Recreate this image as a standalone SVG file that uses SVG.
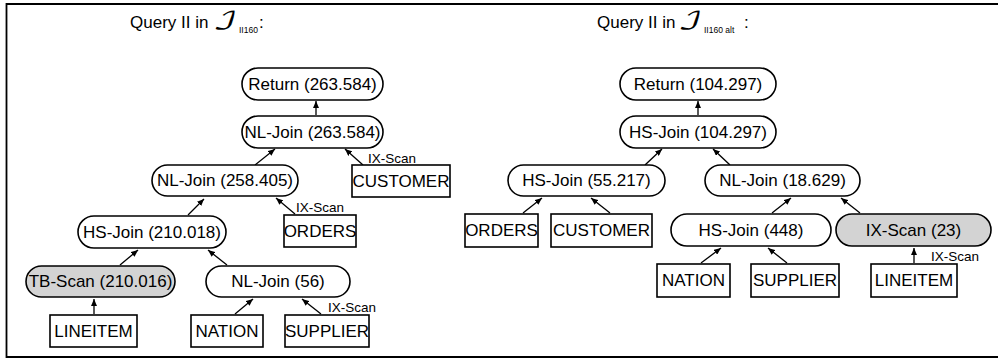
<svg xmlns="http://www.w3.org/2000/svg" width="998" height="358" viewBox="0 0 998 358">
  <style>
    .node { fill: #ffffff; stroke: #000000; stroke-width: 1.6; }
    .hot { fill: #d3d3d3; }
    .lbl { font-family: "Liberation Sans", Arial, sans-serif; font-size: 17px; fill: #000000; text-anchor: middle; dominant-baseline: central; }
    .scan { font-family: "Liberation Sans", Arial, sans-serif; font-size: 13.5px; fill: #000000; }
    .title { font-family: "Liberation Sans", Arial, sans-serif; font-size: 17px; fill: #000000; }
    .sub { font-family: "Liberation Sans", Arial, sans-serif; font-size: 8.5px; fill: #000000; }
    .cal { font-family: "DejaVu Math TeX Gyre", "DejaVu Serif", serif; font-size: 24px; fill: #000000; }
    .edge { stroke: #000000; stroke-width: 1.3; fill: none; marker-end: url(#tip); }
  </style>
  <defs>
    <marker id="tip" markerUnits="userSpaceOnUse" markerWidth="8" markerHeight="6" refX="7" refY="3" orient="auto">
      <path d="M0,0 L7,3 L0,6 z" fill="#000000"/>
    </marker>
  </defs>

  <rect width="998" height="358" fill="#ffffff"/>
  <!-- frame: left, top and bottom edges -->
  <path d="M999 4 H6.5 V357 H999" fill="none" stroke="#000000" stroke-width="1.8"/>

  <!-- headings -->
  <g id="title-left">
    <text class="title" x="130" y="28">Query II in</text>
    <text class="cal" transform="translate(213 29) scale(1.4 1)">ℐ</text>
    <text class="sub" x="239" y="33">II160</text>
    <text class="title" x="259" y="28">:</text>
  </g>
  <g id="title-right">
    <text class="title" x="597" y="28">Query II in</text>
    <text class="cal" transform="translate(678 29) scale(1.4 1)">ℐ</text>
    <text class="sub" x="704" y="33">II160 alt</text>
    <text class="title" x="744" y="28">:</text>
  </g>

  <!-- connectors -->
  <g id="connectors">
    <line class="edge" x1="316" y1="115" x2="316" y2="101"/>
    <line class="edge" x1="255" y1="165" x2="275" y2="149"/>
    <line class="edge" x1="363" y1="165" x2="345" y2="149"/>
    <line class="edge" x1="188" y1="215" x2="204" y2="199"/>
    <line class="edge" x1="295" y1="214" x2="276" y2="198"/>
    <line class="edge" x1="120" y1="265" x2="138" y2="250"/>
    <line class="edge" x1="227" y1="265" x2="208" y2="250"/>
    <line class="edge" x1="94" y1="314" x2="94" y2="299"/>
    <line class="edge" x1="235" y1="314" x2="253" y2="299"/>
    <line class="edge" x1="321" y1="314" x2="302" y2="299"/>

    <line class="edge" x1="698" y1="115" x2="698" y2="101"/>
    <line class="edge" x1="645" y1="165" x2="662" y2="149"/>
    <line class="edge" x1="730" y1="165" x2="713" y2="149"/>
    <line class="edge" x1="523" y1="213" x2="542" y2="198"/>
    <line class="edge" x1="610" y1="213" x2="591" y2="198"/>
    <line class="edge" x1="772" y1="213" x2="791" y2="198"/>
    <line class="edge" x1="860" y1="213" x2="841" y2="198"/>
    <line class="edge" x1="701" y1="263" x2="721" y2="248"/>
    <line class="edge" x1="787" y1="263" x2="768" y2="248"/>
    <line class="edge" x1="914" y1="263" x2="914" y2="248"/>

    <text class="scan" x="368" y="163">IX-Scan</text>
    <text class="scan" x="296" y="212">IX-Scan</text>
    <text class="scan" x="328" y="312">IX-Scan</text>
    <text class="scan" x="931" y="261">IX-Scan</text>
  </g>

  <!-- left plan -->
  <g id="l-return"><rect class="node" x="242" y="68" width="141" height="32" rx="16"/><text class="lbl" x="312.5" y="84">Return (263.584)</text></g>
  <g id="l-nljoin-top"><rect class="node" x="242" y="116" width="141" height="32" rx="16"/><text class="lbl" x="312.5" y="132">NL-Join (263.584)</text></g>
  <g id="l-nljoin-mid"><rect class="node" x="152" y="165" width="146" height="31" rx="15.5"/><text class="lbl" x="225" y="180.5">NL-Join (258.405)</text></g>
  <g id="l-customer"><rect class="node" x="352" y="165" width="98" height="32"/><text class="lbl" x="401" y="181">CUSTOMER</text></g>
  <g id="l-hsjoin"><rect class="node" x="78" y="216" width="148" height="32" rx="16"/><text class="lbl" x="152" y="232">HS-Join (210.018)</text></g>
  <g id="l-orders"><rect class="node" x="284" y="215" width="72" height="32"/><text class="lbl" x="320" y="231">ORDERS</text></g>
  <g id="l-tbscan"><rect class="node hot" x="26" y="266" width="149" height="31" rx="15.5"/><text class="lbl" x="100.5" y="281.5">TB-Scan (210.016)</text></g>
  <g id="l-nljoin-low"><rect class="node" x="206" y="266" width="144" height="31" rx="15.5"/><text class="lbl" x="278" y="281.5">NL-Join (56)</text></g>
  <g id="l-lineitem"><rect class="node" x="50" y="315" width="87" height="32"/><text class="lbl" x="93.5" y="331">LINEITEM</text></g>
  <g id="l-nation"><rect class="node" x="191" y="315" width="72" height="32"/><text class="lbl" x="227" y="331">NATION</text></g>
  <g id="l-supplier"><rect class="node" x="285" y="315" width="84" height="32"/><text class="lbl" x="327" y="331">SUPPLIER</text></g>

  <!-- right plan -->
  <g id="r-return"><rect class="node" x="620" y="68" width="156" height="32" rx="16"/><text class="lbl" x="698" y="84">Return (104.297)</text></g>
  <g id="r-hsjoin-top"><rect class="node" x="620" y="116" width="156" height="32" rx="16"/><text class="lbl" x="698" y="132">HS-Join (104.297)</text></g>
  <g id="r-hsjoin-left"><rect class="node" x="508" y="165" width="157" height="31" rx="15.5"/><text class="lbl" x="586.5" y="180.5">HS-Join (55.217)</text></g>
  <g id="r-nljoin"><rect class="node" x="705" y="165" width="155" height="31" rx="15.5"/><text class="lbl" x="782.5" y="180.5">NL-Join (18.629)</text></g>
  <g id="r-orders"><rect class="node" x="465" y="214" width="73" height="33"/><text class="lbl" x="501.5" y="230.5">ORDERS</text></g>
  <g id="r-customer"><rect class="node" x="551" y="214" width="101" height="33"/><text class="lbl" x="601.5" y="230.5">CUSTOMER</text></g>
  <g id="r-hsjoin-low"><rect class="node" x="671" y="214" width="160" height="32" rx="16"/><text class="lbl" x="751" y="230">HS-Join (448)</text></g>
  <g id="r-ixscan"><rect class="node hot" x="836" y="214" width="155" height="32" rx="16"/><text class="lbl" x="913.5" y="230">IX-Scan (23)</text></g>
  <g id="r-nation"><rect class="node" x="657" y="264" width="73" height="33"/><text class="lbl" x="693.5" y="280.5">NATION</text></g>
  <g id="r-supplier"><rect class="node" x="751" y="264" width="88" height="33"/><text class="lbl" x="795" y="280.5">SUPPLIER</text></g>
  <g id="r-lineitem"><rect class="node" x="871" y="264" width="86" height="33"/><text class="lbl" x="914" y="280.5">LINEITEM</text></g>
</svg>
